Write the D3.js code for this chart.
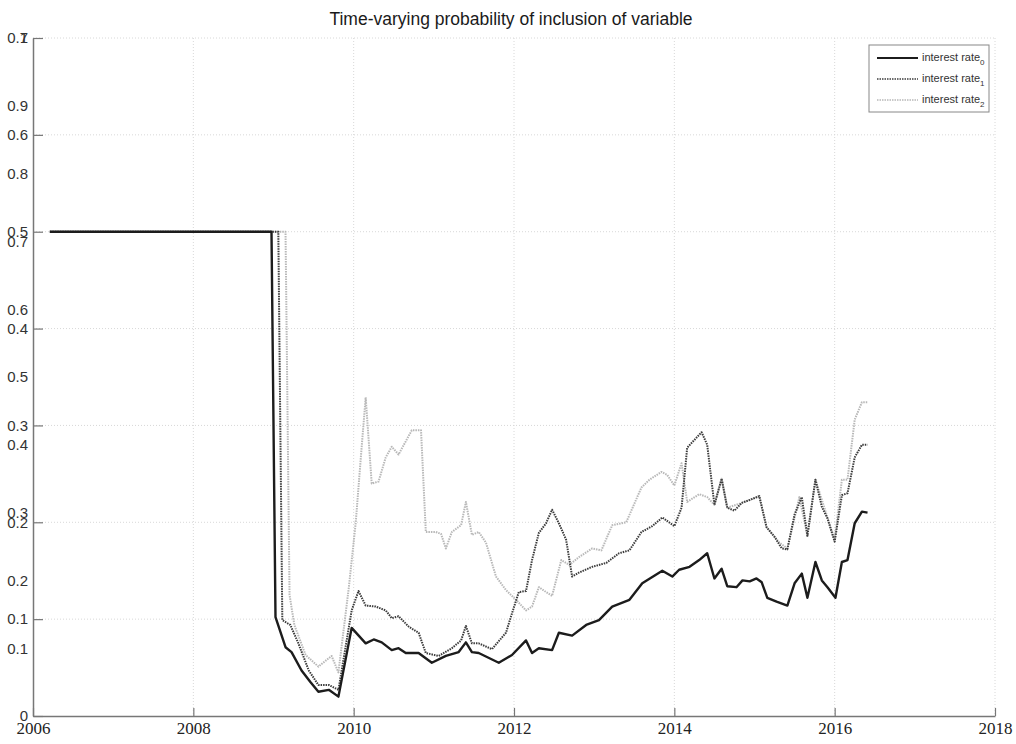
<!DOCTYPE html>
<html>
<head>
<meta charset="utf-8">
<script src="https://cdn.jsdelivr.net/npm/d3@7"></script>
<style>
  body { margin: 0; background: #fff; }
  svg { display: block; }
</style>
</head>
<body>
<svg class="chart" width="1016" height="744"></svg>
<script>
/** DATA **/
let chartTitle = 'Time-varying probability of inclusion of variable';
let seriesNames = ['interest rate', 'interest rate', 'interest rate'];
let seriesSubs = ['0', '1', '2'];

let xTicks = [2006, 2008, 2010, 2012, 2014, 2016, 2018];
let yTicksA = [0, 0.1, 0.2, 0.3, 0.4, 0.5, 0.6, 0.7];
let yTicksB = [0.1, 0.2, 0.3, 0.4, 0.5, 0.6, 0.7, 0.8, 0.9, 1];

let dates0 = [2006.21, 2008.975, 2009.025, 2009.15, 2009.225, 2009.35, 2009.46, 2009.56, 2009.69, 2009.81,
	2009.975, 2010.15, 2010.25, 2010.35, 2010.475, 2010.56, 2010.65, 2010.81, 2010.975, 2011.15,
	2011.31, 2011.4, 2011.475, 2011.56, 2011.81, 2011.975, 2012.15, 2012.225, 2012.31, 2012.475,
	2012.56, 2012.725, 2012.9, 2013.06, 2013.225, 2013.44, 2013.6, 2013.85, 2013.975, 2014.06,
	2014.19, 2014.31, 2014.41, 2014.5, 2014.59, 2014.66, 2014.775, 2014.85, 2014.94, 2015.025,
	2015.09, 2015.16, 2015.275, 2015.41, 2015.5, 2015.59, 2015.66, 2015.76, 2015.84, 2015.91,
	2016.01, 2016.09, 2016.16, 2016.25, 2016.34, 2016.41];
let values0 = [0.5, 0.5, 0.102, 0.071, 0.066, 0.047, 0.035, 0.025, 0.027, 0.020,
	0.091, 0.075, 0.079, 0.076, 0.068, 0.070, 0.065, 0.065, 0.055, 0.062,
	0.066, 0.076, 0.066, 0.065, 0.055, 0.063, 0.078, 0.065, 0.070, 0.068,
	0.086, 0.083, 0.094, 0.099, 0.113, 0.120, 0.137, 0.150, 0.144, 0.151,
	0.154, 0.161, 0.168, 0.142, 0.152, 0.134, 0.133, 0.140, 0.139, 0.142,
	0.138, 0.122, 0.118, 0.114, 0.137, 0.147, 0.122, 0.159, 0.140, 0.133,
	0.122, 0.159, 0.161, 0.199, 0.211, 0.210];

let dates1 = [2006.21, 2009.06, 2009.11, 2009.21, 2009.31, 2009.44, 2009.56, 2009.69, 2009.81, 2009.975,
	2010.06, 2010.15, 2010.275, 2010.4, 2010.475, 2010.56, 2010.69, 2010.81, 2010.9, 2011.06,
	2011.225, 2011.34, 2011.4, 2011.475, 2011.56, 2011.725, 2011.9, 2011.975, 2012.06, 2012.15,
	2012.225, 2012.31, 2012.4, 2012.475, 2012.56, 2012.65, 2012.725, 2012.81, 2012.975, 2013.15,
	2013.31, 2013.44, 2013.59, 2013.725, 2013.85, 2014.0, 2014.09, 2014.16, 2014.34, 2014.41,
	2014.5, 2014.59, 2014.66, 2014.75, 2014.84, 2014.94, 2015.06, 2015.15, 2015.25, 2015.34,
	2015.41, 2015.5, 2015.59, 2015.66, 2015.76, 2015.84, 2015.91, 2016.0, 2016.09, 2016.16,
	2016.25, 2016.34, 2016.41];
let values1 = [0.5, 0.5, 0.099, 0.094, 0.075, 0.047, 0.032, 0.032, 0.027, 0.109,
	0.129, 0.114, 0.113, 0.109, 0.101, 0.103, 0.092, 0.086, 0.065, 0.062,
	0.070, 0.078, 0.093, 0.075, 0.075, 0.069, 0.086, 0.106, 0.128, 0.129,
	0.161, 0.189, 0.199, 0.213, 0.199, 0.182, 0.144, 0.148, 0.154, 0.158,
	0.168, 0.171, 0.190, 0.196, 0.205, 0.196, 0.215, 0.277, 0.293, 0.280,
	0.218, 0.245, 0.215, 0.212, 0.220, 0.223, 0.227, 0.195, 0.185, 0.173,
	0.172, 0.208, 0.226, 0.186, 0.244, 0.216, 0.204, 0.180, 0.228, 0.230,
	0.267, 0.280, 0.280];

let dates2 = [2006.21, 2009.15, 2009.2, 2009.26, 2009.4, 2009.56, 2009.725, 2009.81, 2009.94, 2010.025,
	2010.1, 2010.15, 2010.225, 2010.31, 2010.4, 2010.475, 2010.56, 2010.725, 2010.84, 2010.9,
	2011.025, 2011.09, 2011.15, 2011.225, 2011.34, 2011.4, 2011.475, 2011.56, 2011.65, 2011.775,
	2011.9, 2012.025, 2012.15, 2012.225, 2012.31, 2012.4, 2012.475, 2012.59, 2012.69, 2012.81,
	2012.975, 2013.09, 2013.225, 2013.4, 2013.59, 2013.69, 2013.84, 2013.91, 2014.0, 2014.09,
	2014.16, 2014.31, 2014.41, 2014.5, 2014.59, 2014.66, 2014.84, 2015.06, 2015.15, 2015.31,
	2015.41, 2015.56, 2015.66, 2015.76, 2015.91, 2016.0, 2016.09, 2016.16, 2016.25, 2016.34,
	2016.41];
let values2 = [0.5, 0.5, 0.125, 0.094, 0.063, 0.051, 0.062, 0.045, 0.133, 0.199,
	0.278, 0.329, 0.240, 0.242, 0.267, 0.278, 0.270, 0.295, 0.295, 0.190,
	0.190, 0.188, 0.173, 0.190, 0.197, 0.221, 0.187, 0.190, 0.179, 0.144,
	0.130, 0.120, 0.109, 0.113, 0.133, 0.128, 0.124, 0.161, 0.156, 0.164,
	0.173, 0.171, 0.197, 0.200, 0.236, 0.244, 0.252, 0.249, 0.238, 0.261,
	0.221, 0.229, 0.226, 0.218, 0.245, 0.215, 0.220, 0.227, 0.195, 0.179,
	0.173, 0.226, 0.186, 0.244, 0.205, 0.182, 0.244, 0.244, 0.306, 0.324,
	0.324];

/** CONSTANTS **/
let margin = { top: 38, right: 21, bottom: 28, left: 33 };
let width = 1016 - margin.left - margin.right;
let height = 744 - margin.top - margin.bottom;

let x = d3.scaleLinear().domain([2006, 2018]).range([0, width]);
let yA = d3.scaleLinear().domain([0, 0.7]).range([height, 0]);
let yB = d3.scaleLinear().domain([0, 1]).range([height, 0]);

let styles = [
	{ color: '#1c1c1c', width: 2.4, dash: null },
	{ color: '#3c3c3c', width: 2, dash: '1.5,1' },
	{ color: '#b8b8b8', width: 2, dash: '1.5,1' }
];

let svg = d3.select('.chart');
let g = svg.append('g').attr('transform', 'translate(' + margin.left + ',' + margin.top + ')');

// title
svg.append('text')
	.attr('x', 511)
	.attr('y', 25)
	.attr('text-anchor', 'middle')
	.style('font', '17.5px "Liberation Sans", Arial, sans-serif')
	.style('fill', '#1a1a1a')
	.text(chartTitle);

// grid
g.append('g')
	.selectAll('line')
	.data(yTicksA.slice(1))
	.enter()
	.append('line')
	.attr('x1', 0)
	.attr('x2', width)
	.attr('y1', function(d) { return yA(d); })
	.attr('y2', function(d) { return yA(d); })
	.style('stroke', '#d8d8d8')
	.style('stroke-width', 1)
	.style('stroke-dasharray', '1,2');

g.append('g')
	.selectAll('line')
	.data(xTicks.slice(1))
	.enter()
	.append('line')
	.attr('x1', function(d) { return x(d); })
	.attr('x2', function(d) { return x(d); })
	.attr('y1', 0)
	.attr('y2', height)
	.style('stroke', '#d8d8d8')
	.style('stroke-width', 1)
	.style('stroke-dasharray', '1,2');

// x axis
let xAxis = g.append('g')
	.attr('transform', 'translate(0,' + height + ')')
	.call(d3.axisBottom(x).tickValues(xTicks).tickFormat(d3.format('d')).tickSizeInner(-8).tickSizeOuter(0).tickPadding(6));
xAxis.select('.domain').style('stroke', '#777').style('stroke-width', 1.5);
xAxis.selectAll('.tick line').style('stroke', '#777').style('stroke-width', 1.2);
xAxis.selectAll('text')
	.style('font', '17px "Liberation Serif", "Times New Roman", serif')
	.style('fill', '#222');

// y axis (0 - 0.7) with ticks
let yAxisA = g.append('g')
	.call(d3.axisLeft(yA).tickValues(yTicksA).tickFormat(d3.format('')).tickSizeInner(-10).tickSizeOuter(0).tickPadding(5));
yAxisA.select('.domain').style('stroke', '#777').style('stroke-width', 1.5);
yAxisA.selectAll('.tick line').style('stroke', '#777').style('stroke-width', 1.2);
yAxisA.selectAll('text')
	.style('font', '15px "Liberation Sans", Arial, sans-serif')
	.style('fill', '#333');

// overlapping second y axis (0 - 1), labels only
let yAxisB = g.append('g')
	.call(d3.axisLeft(yB).tickValues(yTicksB).tickFormat(d3.format('')).tickSize(0).tickPadding(5));
yAxisB.select('.domain').remove();
yAxisB.selectAll('text')
	.style('font', '15px "Liberation Sans", Arial, sans-serif')
	.style('fill', '#333');

// lines
let line = d3.line()
	.x(function(d) { return x(d[0]); })
	.y(function(d) { return yA(d[1]); });

let series = [
	d3.zip(dates0, values0),
	d3.zip(dates1, values1),
	d3.zip(dates2, values2)
];

// draw light series first so the darker ones sit on top
[2, 1, 0].forEach(function(i) {
	g.append('path')
		.datum(series[i])
		.attr('d', line)
		.style('fill', 'none')
		.style('stroke', styles[i].color)
		.style('stroke-width', styles[i].width)
		.style('stroke-linejoin', 'round')
		.style('stroke-dasharray', styles[i].dash);
});

// legend
let legend = svg.append('g').attr('transform', 'translate(869,45)');
legend.append('rect')
	.attr('width', 120)
	.attr('height', 67)
	.style('fill', '#fff')
	.style('stroke', '#888')
	.style('stroke-width', 1);

let items = legend.selectAll('.item')
	.data(seriesNames)
	.enter()
	.append('g')
	.attr('class', 'item')
	.attr('transform', function(d, i) { return 'translate(0,' + (13 + i * 21) + ')'; });

items.append('line')
	.attr('x1', 8)
	.attr('x2', 49)
	.style('stroke', function(d, i) { return styles[i].color; })
	.style('stroke-width', function(d, i) { return i === 0 ? 2 : 1.6; })
	.style('stroke-dasharray', function(d, i) { return styles[i].dash; });

let labels = items.append('text')
	.attr('x', 53)
	.attr('y', 3)
	.style('font', '11px "Liberation Sans", Arial, sans-serif')
	.style('fill', '#333');
labels.append('tspan').text(function(d) { return d; });
labels.append('tspan')
	.attr('dy', 4)
	.style('font-size', '8px')
	.text(function(d, i) { return seriesSubs[i]; });
</script>
</body>
</html>
